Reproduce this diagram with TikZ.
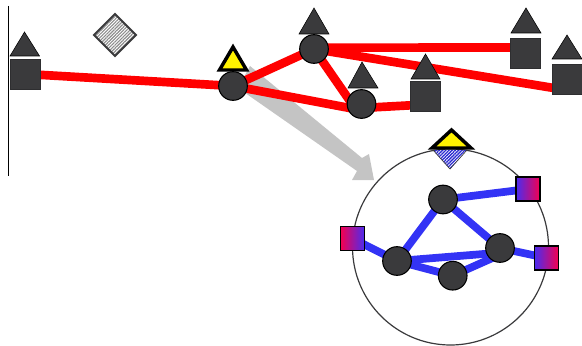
\documentclass[tikz,border=0pt]{standalone}
\usetikzlibrary{patterns.meta}
\definecolor{nodedark}{HTML}{3A3A3C}
\definecolor{linkred}{HTML}{FF0000}
\definecolor{linkblue}{HTML}{3333F5}
\definecolor{arrowgrey}{HTML}{C4C4C4}
\definecolor{gradred}{HTML}{F5004F}
\definecolor{gradblue}{HTML}{4A2CF0}
\pgfdeclarelayer{under}
\pgfdeclarelayer{links}
\pgfsetlayers{under,links,main}
\tikzset{
  router/.style={circle,draw=black,line width=.8pt,fill=nodedark,inner sep=0pt,minimum size=21.5pt},
  hostbox/.style={rectangle,draw=nodedark!80!black,line width=.7pt,fill=nodedark,inner sep=0pt,minimum size=22.5pt},
  gradbox/.style={rectangle,draw=black,line width=.9pt,inner sep=0pt,minimum size=18pt},
  redlink/.style={draw=linkred,line width=6.5pt},
  bluelink/.style={draw=linkblue,line width=5.8pt},
  hat/.style={fill=nodedark,draw=black,line width=.4pt,line join=miter},
  yellowhat/.style={fill=yellow,draw=black,line width=2.6pt,line join=miter},
}
\begin{document}
\begin{tikzpicture}[x=0.75pt,y=-0.75pt]
\useasboundingbox (0,0) rectangle (582,346);
% axis line
\coordinate (axtop) at (8.5,6);
\coordinate (axbot) at (8.5,176);
\draw[black,line width=.9pt] (axtop) -- (axbot);
% hatched diamond
\path[pattern={Lines[angle=45,distance=1.7pt,line width=.85pt]},pattern color=gray!90]
  (115,14) -- (136,35) -- (115,56) -- (94,35) -- cycle;
\draw[nodedark,line width=1.5pt,line join=miter] (115,14) -- (136,35) -- (115,56) -- (94,35) -- cycle;
% upper nodes
\node[hostbox] (h1) at (25.5,74) {};
\node[router] (r1) at (233,86) {};
\node[router] (r2) at (314,49) {};
\node[router] (r3) at (361.5,104) {};
\node[hostbox] (h2) at (425.5,96.5) {};
\node[hostbox] (h3) at (525,53.5) {};
\node[hostbox] (h4) at (567,79.5) {};
% hats
\path[hat] (24.5,32) -- (39.5,56) -- (10,56) -- cycle;
\path[hat] (314,8) -- (329,34) -- (299,34) -- cycle;
\path[hat] (362,62) -- (378,88) -- (348,88) -- cycle;
\path[hat] (425.5,54) -- (440,79) -- (411,79) -- cycle;
\path[hat] (526,8) -- (541,33) -- (511,33) -- cycle;
\path[hat] (567,35) -- (582,59) -- (552,59) -- cycle;
\path[yellowhat] (233,47) -- (246.5,70) -- (219.5,70) -- cycle;
% top marker
\path[pattern={Lines[angle=45,distance=1.7pt,line width=1pt]},pattern color=linkblue!85!black]
  (433,150) -- (467,150) -- (450,169) -- cycle;
\draw[nodedark,line width=.5pt] (433,150) -- (450,169) -- (467,150);
\path[yellowhat] (451.5,130) -- (471,148) -- (432,148) -- cycle;
% lower nodes
\node[router] (c1) at (443,199.5) {};
\node[router] (c2) at (397,261) {};
\node[router] (c3) at (452.7,275.7) {};
\node[router] (c4) at (500,248) {};
\node[gradbox,left color=gradred,right color=gradblue] (sl) at (352.5,238.5) {};
\node[gradbox,left color=gradblue,right color=gradred] (st) at (528,189) {};
\node[gradbox,left color=gradblue,right color=gradred] (sr) at (546.5,258) {};
\begin{pgfonlayer}{under}
\fill[arrowgrey] (250,66) -- (362,158) -- (369,154) -- (374,180) -- (352,180) -- (357,171) -- (238,88) -- cycle;
\node[circle,draw=nodedark,line width=.9pt,inner sep=0pt,minimum size=147pt] (ring) at (450.5,247) {};
\end{pgfonlayer}
\begin{pgfonlayer}{links}
\draw[redlink] (h1.center) -- (r1.center);
\draw[redlink] (r1.center) -- (r2.center);
\draw[redlink] (r1.center) -- ([xshift=-1pt,yshift=-4.5pt]r3.center);
\draw[redlink] (r2.center) -- ([xshift=-5pt,yshift=-3pt]r3.center);
\draw[redlink] ([yshift=-3pt]r3.center) -- ([yshift=-6pt]h2.center);
\draw[redlink] ([yshift=1pt]r2.center) -- ([yshift=4.5pt]h3.center);
\draw[redlink] (r2.center) -- ([yshift=-8pt]h4.center);
\draw[bluelink] (sl.center) -- (c2.center);
\draw[bluelink] (c2.center) -- (c1.center);
\draw[bluelink] (c1.center) -- (st.center);
\draw[bluelink] (c1.center) -- (c4.center);
\draw[bluelink] (c4.center) -- (sr.center);
\draw[bluelink] (c2.center) -- ([yshift=-3.5pt]c4.center);
\draw[bluelink] (c2.center) -- (c3.center);
\draw[bluelink] (c3.center) -- ([yshift=-5pt]c4.center);
\end{pgfonlayer}
\end{tikzpicture}
\end{document}
